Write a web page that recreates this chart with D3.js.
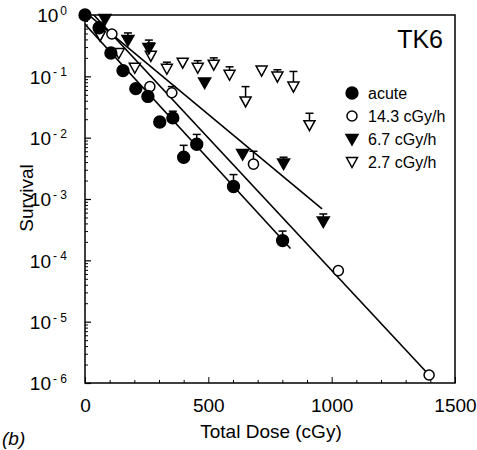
<!DOCTYPE html>
<html>
<head>
<meta charset="utf-8">
<script src="https://cdn.jsdelivr.net/npm/d3@7"></script>
<style>
  body { margin: 0; background: #fff; }
  text { font-family: "Liberation Sans", Arial, sans-serif; fill: #000; }
</style>
</head>
<body>
<div id="chart"></div>
<script>
// survival data (dose in cGy, survival fraction, upper error or null)
var acuteDose = [0, 57, 105, 154, 206, 255, 303, 356, 400, 453, 602, 801];
var acuteSurv = [1, 0.62, 0.24, 0.124, 0.063, 0.047, 0.018, 0.021, 0.0048, 0.0078, 0.0016, 0.00021];
var acuteErr  = [null, null, null, null, null, null, null, 0.027, 0.0075, 0.0113, 0.0025, 0.0003];

var r143Dose = [109, 263, 352, 683, 1027, 1395];
var r143Surv = [0.49, 0.068, 0.054, 0.0037, 0.000068, 0.00000135];
var r143Err  = [null, null, 0.068, 0.006, null, null];

var r67Dose = [81, 174, 259, 485, 639, 805, 966];
var r67Surv = [0.86, 0.39, 0.29, 0.079, 0.0054, 0.0038, 0.00043];
var r67Err  = [null, 0.51, 0.39, null, null, 0.0048, 0.00057];

var r27Dose = [61, 137, 202, 267, 332, 396, 457, 522, 586, 651, 716, 780, 845, 910];
var r27Surv = [0.46, 0.24, 0.138, 0.216, 0.133, 0.167, 0.138, 0.155, 0.106, 0.039, 0.124, 0.099, 0.068, 0.016];
var r27Err  = [null, null, null, 0.35, 0.17, null, 0.18, 0.2, 0.143, 0.068, null, 0.128, 0.12, 0.025];

// fitted lines: [start dose, end dose], log10 intercept, log10 slope per cGy
var acuteFit = {from: 0, to: 833, a: -0.15, b: -0.00439};
var r143Fit  = {from: 0, to: 1395, a: 0.154, b: -0.004318};
var r67Fit   = {from: 0, to: 961, a: 0.05, b: -0.00334};

var xTicks = [0, 500, 1000, 1500];
var yExps = [0, -1, -2, -3, -4, -5, -6];
var legendNames = ["acute", "14.3 cGy/h", "6.7 cGy/h", "2.7 cGy/h"];

var chartW = 477, chartH = 450;
var mLeft = 85, mRight = 455, mTop = 15, mBottom = 383;

var svg = d3.select("#chart").append("svg")
    .attr("width", chartW)
    .attr("height", chartH);

var x = d3.scaleLinear().domain([0, 1500]).range([mLeft, mRight]);
var y = d3.scaleLog().domain([1e-6, 1]).range([mBottom, mTop]);

svg.append("clipPath").attr("id", "clip")
    .append("rect")
    .attr("x", mLeft).attr("y", mTop)
    .attr("width", mRight - mLeft).attr("height", mBottom - mTop);

// frame
svg.append("rect")
    .attr("x", mLeft).attr("y", mTop)
    .attr("width", mRight - mLeft).attr("height", mBottom - mTop)
    .attr("fill", "none")
    .attr("stroke", "#000")
    .attr("stroke-width", 1.5);

// y axis, ticks pointing inward
var yMajor = yExps.map(function (e) { return Math.pow(10, e); });
var yMinor = [];
yExps.slice(0, 6).forEach(function (e) {
    for (var k = 2; k < 10; k++) yMinor.push(k * Math.pow(10, e - 1));
});

svg.append("g")
    .attr("transform", "translate(" + mLeft + ",0)")
    .call(d3.axisLeft(y).tickValues(yMinor).tickSize(-3).tickFormat(""))
    .call(function (g) { g.select(".domain").remove(); });

var yAxis = svg.append("g")
    .attr("transform", "translate(" + mLeft + ",0)")
    .call(d3.axisLeft(y).tickValues(yMajor).tickSize(-6).tickFormat(""));
yAxis.select(".domain").remove();
yAxis.selectAll(".tick line").attr("stroke-width", 1.2);
yAxis.selectAll(".tick text").remove();
yAxis.selectAll(".tick").append("text")
    .attr("x", -18)
    .attr("dy", "0.36em")
    .attr("text-anchor", "end")
    .attr("fill", "#000")
    .style("font-size", "19px")
    .each(function (d) {
        var e = Math.round(Math.log10(d));
        d3.select(this).text("10");
        d3.select(this).append("tspan")
            .attr("dy", "-0.6em")
            .attr("dx", "2")
            .style("font-size", "12px")
            .text(e === 0 ? "0" : "- " + (-e));
    });

// x axis
var xMinor = d3.range(100, 1500, 100).filter(function (v) { return v % 500 !== 0; });
svg.append("g")
    .attr("transform", "translate(0," + mBottom + ")")
    .call(d3.axisBottom(x).tickValues(xMinor).tickSize(-3).tickFormat(""))
    .call(function (g) { g.select(".domain").remove(); });

var xAxis = svg.append("g")
    .attr("transform", "translate(0," + mBottom + ")")
    .call(d3.axisBottom(x).tickValues(xTicks).tickSize(-6).tickPadding(16).tickFormat(d3.format("d")));
xAxis.select(".domain").remove();
xAxis.selectAll(".tick text")
    .style("font-size", "19px")
    .style("font-family", "'Liberation Sans', Arial, sans-serif")
    .attr("fill", "#000");

// axis titles
svg.append("text")
    .attr("x", (mLeft + mRight) / 2 + 1)
    .attr("y", 438)
    .attr("text-anchor", "middle")
    .style("font-size", "19px")
    .text("Total Dose (cGy)");

svg.append("text")
    .attr("transform", "translate(33,198) rotate(-90)")
    .attr("text-anchor", "middle")
    .style("font-size", "19px")
    .text("Survival");

svg.append("text")
    .attr("x", 2)
    .attr("y", 445)
    .style("font-size", "19px")
    .style("font-style", "italic")
    .text("(b)");

svg.append("text")
    .attr("x", 443)
    .attr("y", 48)
    .attr("text-anchor", "end")
    .style("font-size", "25px")
    .text("TK6");

// fit lines
var plot = svg.append("g").attr("clip-path", "url(#clip)");
[acuteFit, r143Fit, r67Fit].forEach(function (f) {
    plot.append("line")
        .attr("x1", x(f.from)).attr("y1", y(Math.pow(10, f.a + f.b * f.from)))
        .attr("x2", x(f.to)).attr("y2", y(Math.pow(10, f.a + f.b * f.to)))
        .attr("stroke", "#000")
        .attr("stroke-width", 1.6);
});

// markers
var circlePath = d3.symbol().type(d3.symbolCircle).size(110)();
var openCirclePath = d3.symbol().type(d3.symbolCircle).size(80)();
var triPath = "M-6,-4.5L6,-4.5L0,6Z";
var openTriPath = "M-5.5,-4.5L5.5,-4.5L0,5.5Z";

var series = [
    {dose: acuteDose, surv: acuteSurv, err: acuteErr, path: circlePath, fill: "#000"},
    {dose: r143Dose, surv: r143Surv, err: r143Err, path: openCirclePath, fill: "#fff"},
    {dose: r67Dose, surv: r67Surv, err: r67Err, path: triPath, fill: "#000"},
    {dose: r27Dose, surv: r27Surv, err: r27Err, path: openTriPath, fill: "#fff"}
];

series.slice().reverse().forEach(function (s) {
    var pts = s.dose.map(function (d, i) {
        return {dose: d, surv: s.surv[i], err: s.err[i]};
    });

    var g = svg.append("g");
    var bars = g.selectAll(".err")
        .data(pts.filter(function (p) { return p.err !== null; }))
        .enter().append("g");
    bars.append("line")
        .attr("x1", function (p) { return x(p.dose); })
        .attr("x2", function (p) { return x(p.dose); })
        .attr("y1", function (p) { return y(p.surv); })
        .attr("y2", function (p) { return y(p.err); })
        .attr("stroke", "#000").attr("stroke-width", 1.5);
    bars.append("line")
        .attr("x1", function (p) { return x(p.dose) - 4; })
        .attr("x2", function (p) { return x(p.dose) + 4; })
        .attr("y1", function (p) { return y(p.err); })
        .attr("y2", function (p) { return y(p.err); })
        .attr("stroke", "#000").attr("stroke-width", 1.5);

    g.selectAll(".pt")
        .data(pts)
        .enter().append("path")
        .attr("d", s.path)
        .attr("transform", function (p) {
            return "translate(" + x(p.dose) + "," + y(p.surv) + ")";
        })
        .attr("fill", s.fill)
        .attr("stroke", "#000")
        .attr("stroke-width", 1.5);
});

// legend
var legend = svg.selectAll(".legend")
    .data(legendNames)
    .enter().append("g")
    .attr("class", "legend")
    .attr("transform", function (d, i) {
        return "translate(352," + (93 + i * 23) + ")";
    });

legend.append("path")
    .attr("d", function (d, i) { return series[i].path; })
    .attr("fill", function (d, i) { return series[i].fill; })
    .attr("stroke", "#000")
    .attr("stroke-width", 1.5);

legend.append("text")
    .attr("x", 16)
    .attr("y", 6)
    .style("font-size", "16px")
    .text(function (d) { return d; });
</script>
</body>
</html>
